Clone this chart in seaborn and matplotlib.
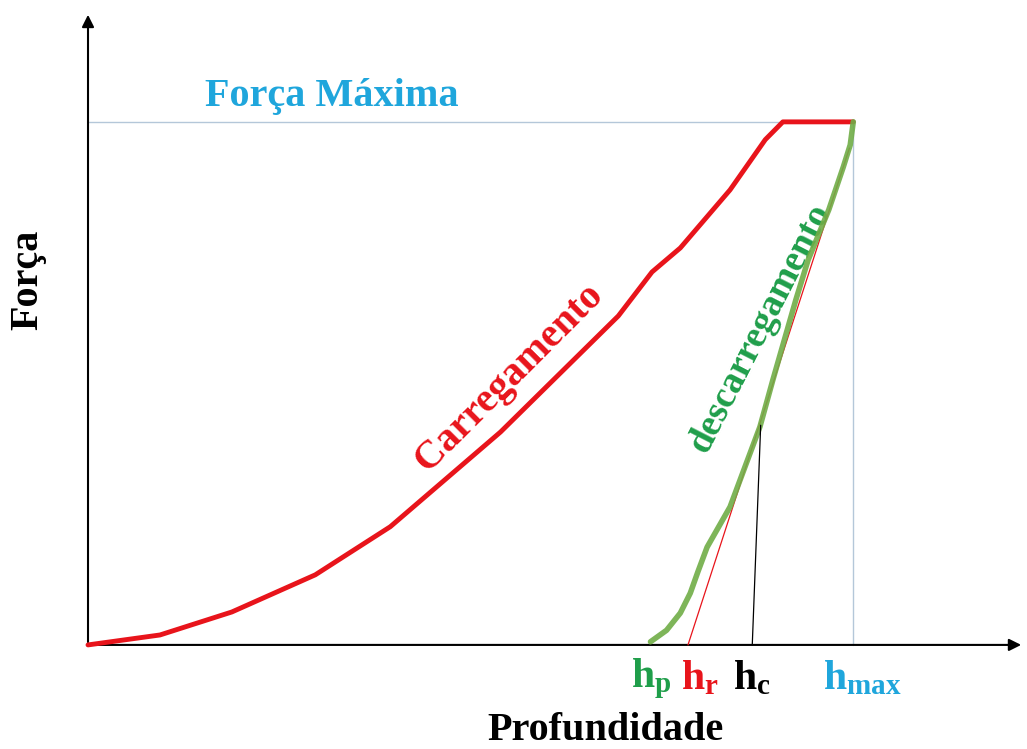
import numpy as np
import matplotlib
matplotlib.use("Agg")
import matplotlib.pyplot as plt
import seaborn as sns

sns.set_style("white")
plt.rcParams['font.family'] = ['Liberation Serif', 'DejaVu Serif']
plt.rcParams['mathtext.fontset'] = 'custom'
plt.rcParams['mathtext.bf'] = 'Liberation Serif:bold'
plt.rcParams['mathtext.rm'] = 'Liberation Serif:bold'

# curves (depth and force in % of max)
load_depth = [0, 9.4, 18.8, 29.7, 39.5, 53.9, 69.3, 73.7, 77.4, 83.9, 88.5, 90.8, 100]
load_force = [0, 1.9, 6.3, 13.4, 22.6, 40.7, 62.9, 71.3, 75.9, 87.0, 96.6, 100, 100]

unload_depth = [73.5, 75.6, 77.4, 78.7, 79.7, 80.9, 83.9, 87.8, 89.5, 92.5, 94.1, 96.8, 98.7, 99.6, 100]
unload_force = [0.6, 2.8, 6.1, 9.9, 14.0, 18.7, 26.4, 41.7, 50.7, 66.0, 73.6, 83.2, 91.4, 95.6, 100]

h_p, h_r, h_c, h_max = 73.5, 78.4, 86.8, 100
f_max = 100

red = "#e8141b"
green = "#70ad47"
green_txt = "#1f9e4a"
blue_txt = "#1fa6dc"
guide = "#b4c7d9"

fig = plt.figure(figsize=(10.27, 7.49), dpi=100)
ax = fig.add_axes([0, 0, 1, 1])
ax.set_xlim(-11.5, 122.7)
ax.set_ylim(-19.9, 123.3)
ax.axis("off")

# guides
ax.plot([0, h_max], [f_max, f_max], color=guide, lw=1, zorder=1)
ax.plot([h_max, h_max], [0, f_max], color=guide, lw=1, zorder=1)

# axes arrows
ax.annotate("", xy=(122.3, 0), xytext=(0, 0),
            arrowprops=dict(arrowstyle="-|>", color="black", lw=1.5, mutation_scale=18))
ax.annotate("", xy=(0, 121), xytext=(0, 0),
            arrowprops=dict(arrowstyle="-|>", color="black", lw=1.5, mutation_scale=18))

sns.lineplot(x=load_depth, y=load_force, sort=False, color=red, lw=3.5, ax=ax, zorder=3)

# tangent under the unloading curve
ax.plot([h_r, 99.5], [0, 95], color=red, lw=0.9, zorder=4)
sns.lineplot(x=unload_depth, y=unload_force, sort=False, color=green, lw=4, alpha=0.9, ax=ax, zorder=5)
ax.plot([h_c, 87.9], [0, 42], color="black", lw=0.9, zorder=6)

bold = dict(fontweight="bold", ha="center", va="center")
ax.text(31.8, 104.8, "Força Máxima", color=blue_txt, fontsize=29, **bold)
ax.text(55.0, 51.0, "Carregamento", color=red, fontsize=29, rotation=45, **bold)
ax.text(87.8, 60.6, "descarregamento", color=green_txt, fontsize=27, rotation=63, **bold)
ax.text(-7.8, 69.8, "Força", color="black", fontsize=29, rotation=90, **bold)
ax.text(67.6, -16.3, "Profundidade", color="black", fontsize=29, **bold)

ax.text(73.6, -6.5, r"$\mathbf{h_p}$", color=green_txt, fontsize=30, **bold)
ax.text(80.0, -6.5, r"$\mathbf{h_r}$", color=red, fontsize=30, **bold)
ax.text(86.8, -6.5, r"$\mathbf{h_c}$", color="black", fontsize=30, **bold)
ax.text(101.2, -6.5, r"$\mathbf{h_{max}}$", color=blue_txt, fontsize=30, **bold)

fig.savefig("out.png", dpi=100)
